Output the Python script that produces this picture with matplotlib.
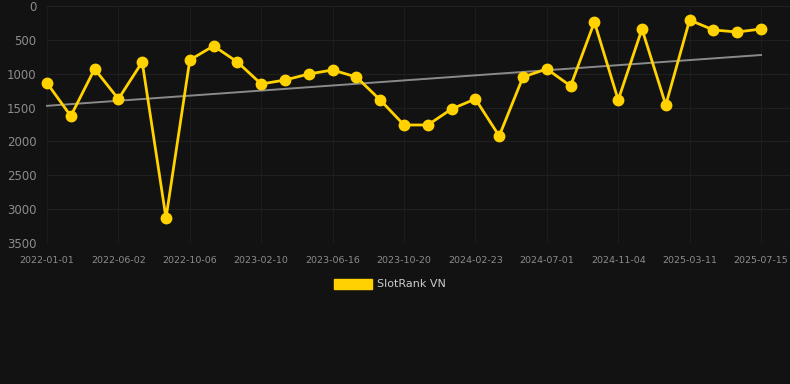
import matplotlib
matplotlib.use("Agg")
import matplotlib.pyplot as plt
import numpy as np

dates = ["2022-01-01", "2022-02-19", "2022-04-09", "2022-06-02", "2022-07-14",
         "2022-08-25", "2022-10-06", "2022-11-17", "2022-12-29", "2023-02-10",
         "2023-03-24", "2023-05-05", "2023-06-16", "2023-07-28", "2023-09-08",
         "2023-10-20", "2023-12-01", "2024-01-12", "2024-02-23", "2024-04-05",
         "2024-05-17", "2024-07-01", "2024-08-12", "2024-09-23", "2024-11-04",
         "2024-12-16", "2025-01-27", "2025-03-11", "2025-04-22", "2025-06-03",
         "2025-07-15"]
ranks = [1137, 1625, 930, 1373, 827, 3131, 797, 590, 827, 1152,
         1093, 1004, 945, 1049, 1388, 1757, 1757, 1521, 1373, 1920,
         1049, 930, 1181, 236, 1388, 340, 1462, 207, 354, 384, 340]
series_name = "SlotRank VN"
y_ticks = [0, 500, 1000, 1500, 2000, 2500, 3000, 3500]

bg = "#121212"
fig = plt.figure(figsize=(7.9, 3.84), dpi=100, facecolor=bg)
ax = fig.add_axes([47/790, 1 - 243/384, 743/790, 237/384], facecolor=bg)

x = np.arange(len(ranks))
coef = np.polyfit(x, ranks, 1)
ax.plot(x, np.polyval(coef, x), color="#8a8a8a", lw=1.4, zorder=2, clip_on=False)
ax.plot(x, ranks, color="#FFD200", lw=2.0, marker="o", markersize=7.5,
        solid_joinstyle="miter", zorder=3, label=series_name, clip_on=False)

ax.set_ylim(3500, 0)
ax.set_xlim(0, 743/23.8)
ax.set_yticks(y_ticks)
ax.set_yticklabels([str(v) for v in y_ticks])
tick_idx = list(range(0, len(dates), 3))
ax.set_xticks(tick_idx)
ax.set_xticklabels([dates[i] for i in tick_idx])

ax.grid(True, axis="x", color="#1c1c1c", lw=0.8)
ax.grid(True, axis="y", color="#202020", lw=0.8)
ax.set_axisbelow(True)
for s in ax.spines.values():
    s.set_visible(False)
ax.axhline(3500, color="#2c2c2c", lw=0.8, zorder=1)
ax.tick_params(axis="y", colors="#8c8c8c", labelsize=8.5, length=0, pad=7.5)
ax.tick_params(axis="x", colors="#8c8c8c", labelsize=6.8, length=0, pad=9.5)

handle = plt.Rectangle((0, 0), 1, 1, color="#FFD200")
leg = fig.legend([handle], [series_name], loc="center", bbox_to_anchor=(390/790, 1 - 284/384),
                 frameon=False, fontsize=8, labelcolor="#cccccc",
                 handlelength=3.4, handleheight=1.0, handletextpad=0.5)

fig.savefig("out.png", dpi=100, facecolor=bg)
